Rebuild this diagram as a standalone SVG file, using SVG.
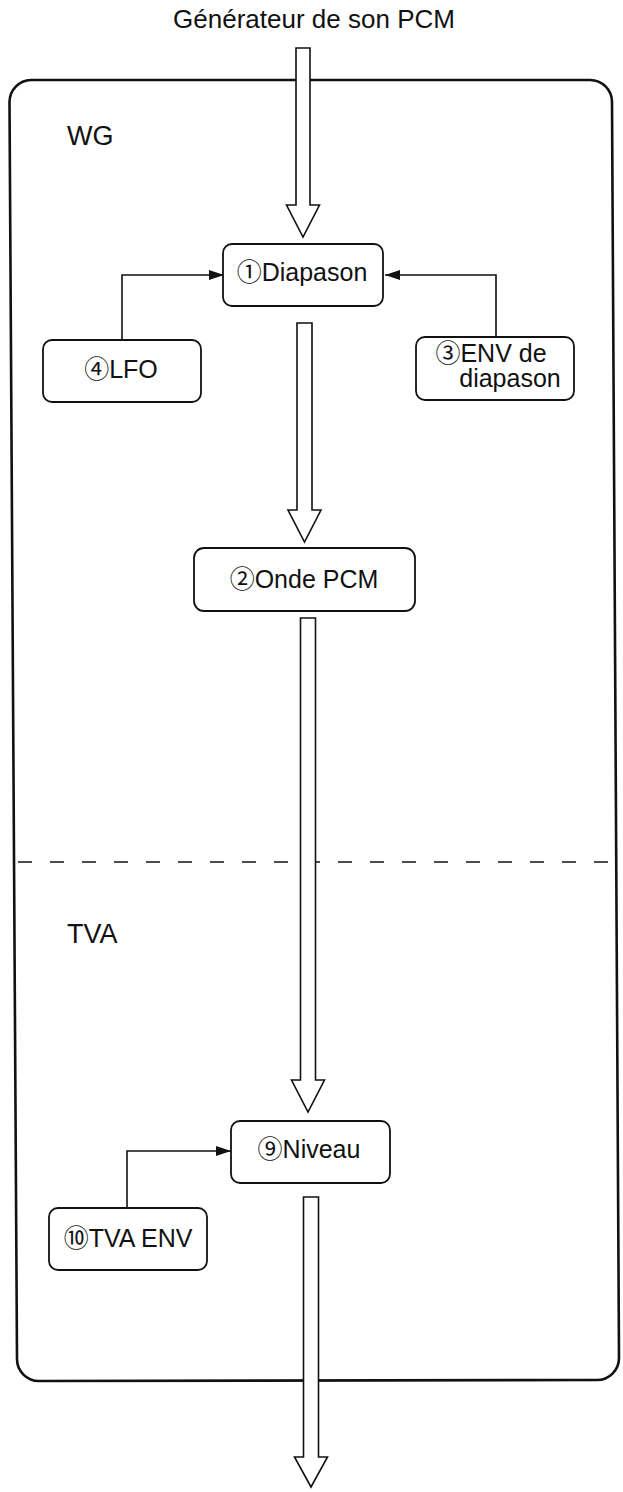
<svg xmlns="http://www.w3.org/2000/svg" width="623" height="1492" viewBox="0 0 623 1492">
<style>
text{font-family:"Liberation Sans","Noto Sans CJK JP",sans-serif;fill:#111}
.t{font-size:26px}
.l{font-size:27px}
.n{font-size:25px;text-anchor:middle}
.box{fill:#fff;stroke:#111;stroke-width:1.8}
.big{fill:#fff;stroke:#111;stroke-width:1.6}
.con{fill:none;stroke:#111;stroke-width:1.6}
</style>
<defs>
<marker id="ah" markerUnits="userSpaceOnUse" markerWidth="16" markerHeight="10" refX="15" refY="5" orient="auto">
<path d="M0,0 L15,5 L0,10 Z" fill="#111"/>
</marker>
</defs>
<rect width="623" height="1492" fill="#fff"/>
<g id="frame">
<path d="M31,80 L590,80 A22,22 0 0 1 612,102 L619,1358 A22,22 0 0 1 597,1380 L39,1381 A22,22 0 0 1 17,1359 L9.5,102 A22,22 0 0 1 31,80 Z" fill="none" stroke="#111" stroke-width="2.6"/>
<line x1="18" y1="862" x2="614" y2="862" stroke="#111" stroke-width="1.6" stroke-dasharray="14 18"/>
</g>
<g id="labels">
<text class="t" x="314" y="28" text-anchor="middle">Générateur de son PCM</text>
<text class="l" x="67" y="145">WG</text>
<text class="l" x="67" y="943">TVA</text>
</g>
<g id="connectors">
<path class="con" d="M122,340 V275 H224" marker-end="url(#ah)"/>
<path class="con" d="M496,337 V275 H385" marker-end="url(#ah)"/>
<path class="con" d="M127,1208 V1151 H231" marker-end="url(#ah)"/>
<polygon class="big" points="296,48 310,48 310,205 319.5,205 303,237 286.5,205 296,205"/>
<polygon class="big" points="297,323 312,323 312,510 321,510 304.5,542 288,510 297,510"/>
<polygon class="big" points="300.5,618 315.5,618 315.5,1080 324.5,1080 308,1112 291.5,1080 300.5,1080"/>
<polygon class="big" points="303.5,1197 318.5,1197 318.5,1457 327.5,1457 311,1487 294.5,1457 303.5,1457"/>
</g>
<g id="n1">
<rect class="box" x="223" y="244" width="160" height="62" rx="9"/>
<text class="n" x="302" y="281">①Diapason</text>
</g>
<g id="n4">
<rect class="box" x="43" y="340" width="158" height="62" rx="9"/>
<text class="n" x="121" y="378">④LFO</text>
</g>
<g id="n3">
<rect class="box" x="416" y="337" width="158" height="63" rx="9"/>
<text class="n" x="491" y="362">③ENV de</text>
<text class="n" x="510" y="387">diapason</text>
</g>
<g id="n2">
<rect class="box" x="194" y="548" width="221" height="63" rx="10"/>
<text class="n" x="304" y="588">②Onde PCM</text>
</g>
<g id="n9">
<rect class="box" x="231" y="1121" width="159" height="62" rx="9"/>
<text class="n" x="309" y="1158">⑨Niveau</text>
</g>
<g id="n10">
<rect class="box" x="49" y="1208" width="158" height="62" rx="9"/>
<text class="n" x="128" y="1247">⑩TVA ENV</text>
</g>
</svg>
